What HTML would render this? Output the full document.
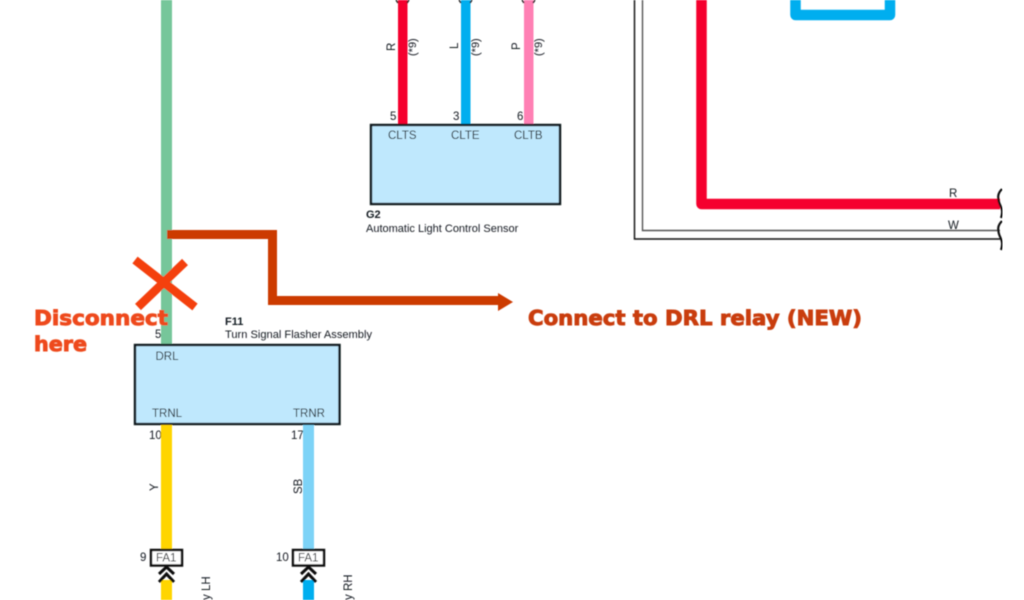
<!DOCTYPE html>
<html><head><meta charset="utf-8">
<style>html,body{margin:0;padding:0;background:#fff;width:1024px;height:600px;overflow:hidden}svg{display:block}
text{font-family:"Liberation Sans",sans-serif;fill:#141a20}
.o{font-family:"DejaVu Sans",sans-serif;font-weight:bold;stroke-width:.9px;paint-order:stroke}
</style></head>
<body>
<svg width="1024" height="600" viewBox="0 0 1024 600" xmlns="http://www.w3.org/2000/svg">
<defs><filter id="b" x="0" y="0" width="100%" height="100%"><feGaussianBlur stdDeviation="0.4"/></filter></defs>
<rect width="1024" height="600" fill="#fff"/>
<g filter="url(#b)">
<!-- main wires -->
<rect x="161" y="0" width="11" height="346" fill="#76c69a"/>
<rect x="398" y="0" width="9.5" height="126" fill="#f5002d"/>
<rect x="461" y="0" width="9.5" height="126" fill="#00aeef"/>
<rect x="524" y="0" width="9.5" height="126" fill="#ff80b4"/>
<path d="M396 0l2 3M409 0l-2 3M459 0l2 3M472 0l-2 3M522 0l2 3M535 0l-2 3" stroke="#222" stroke-width="1.5" fill="none"/>
<!-- G2 -->
<rect x="371" y="125" width="189" height="79" fill="#bfe8fd" stroke="#0f161c" stroke-width="2.4"/>
<g font-size="11.5">
<text x="388" y="139">CLTS</text><text x="451" y="139">CLTE</text><text x="514" y="139">CLTB</text>
<text x="390" y="120">5</text><text x="453" y="120">3</text><text x="517" y="120">6</text>
<text x="366" y="232" font-size="11">Automatic Light Control Sensor</text>
<text x="366" y="218" font-size="11" font-weight="bold">G2</text>
<text x="395" y="51" transform="rotate(-90 395 51)">R</text>
<text x="458" y="49" transform="rotate(-90 458 49)">L</text>
<text x="520" y="50" transform="rotate(-90 520 50)">P</text>
<text x="416" y="56" font-size="11" transform="rotate(-90 416 56)">(*9)</text>
<text x="479" y="56" font-size="11" transform="rotate(-90 479 56)">(*9)</text>
<text x="542" y="56" font-size="11" transform="rotate(-90 542 56)">(*9)</text>
</g>
<!-- right wires -->
<path d="M634.5 0V239H1000" stroke="#111" stroke-width="1.4" fill="none"/>
<path d="M642.5 0V230.500H1000" stroke="#555" stroke-width="1.4" fill="none"/>
<path d="M701.5 0V204H1000" stroke="#f5002d" stroke-width="10.5" fill="none" stroke-linejoin="round"/>
<path d="M795.5 0V15H890V0" stroke="#00aeef" stroke-width="10.5" fill="none" stroke-linejoin="round"/>
<path d="M1002 189C997 194 998 198 999 202C1000 206 1004 209 1001 218M1002 221C997 226 998 230 999 234C1000 238 1004 241 1001 250" stroke="#111" stroke-width="2.200" fill="none"/>
<text x="949" y="197" font-size="11.5">R</text>
<text x="948" y="229" font-size="11.5">W</text>
<!-- F11 -->
<rect x="135" y="345" width="204.5" height="79" fill="#bfe8fd" stroke="#0f161c" stroke-width="2.4"/>
<g font-size="11.5">
<text x="155.500" y="360">DRL</text>
<text x="152" y="417">TRNL</text>
<text x="293" y="417">TRNR</text>
<text x="155" y="338">5</text>
<text x="149" y="439">10</text>
<text x="291" y="439">17</text>
<text x="225" y="325" font-weight="bold" font-size="11">F11</text>
<text x="225" y="338" font-size="11" textLength="147" lengthAdjust="spacingAndGlyphs">Turn Signal Flasher Assembly</text>
</g>
<!-- lower wires -->
<rect x="161" y="425" width="11" height="126" fill="#ffd500"/>
<rect x="303" y="425" width="11" height="126" fill="#7dd3f7"/>
<rect x="161" y="580" width="11" height="20" fill="#ffd500"/>
<rect x="303" y="580" width="11" height="20" fill="#00aeef"/>
<g font-size="11.5">
<text x="158" y="491" transform="rotate(-90 158 491)">Y</text>
<text x="302" y="494" transform="rotate(-90 302 494)">SB</text>
<text x="140" y="561">9</text>
<text x="276" y="561">10</text>
<text x="210" y="600" transform="rotate(-90 210 600)">y LH</text>
<text x="352" y="600" transform="rotate(-90 352 600)">y RH</text>
</g>
<g fill="#fff" stroke="#111" stroke-width="2.500">
<rect x="151" y="550" width="31" height="15.500"/>
<rect x="293" y="550" width="31" height="15.500"/>
</g>
<g font-size="11.500"><text x="156" y="561.500">FA1</text><text x="298" y="561.500">FA1</text></g>
<path d="M159 574L166.500 567L174 574M159 582L166.500 574L174 582M301 574L308.500 567L316 574M301 582L308.500 574L316 582" stroke="#111" stroke-width="3" fill="none"/>
<!-- orange -->
<path d="M167 234.500H272.500V300.500H500" stroke="#cc3a00" stroke-width="9" fill="none"/>
<path d="M498 293L513 302L498 311Z" fill="#cc3a00"/>
<path d="M135 260L195 307M185 262L138 307" stroke="#f4410f" stroke-width="8.500" fill="none"/>
<text class="o" x="34" y="325" font-size="20" textLength="134" lengthAdjust="spacingAndGlyphs" style="fill:#ee4a1b;stroke:#ee4a1b">Disconnect</text>
<text class="o" x="34" y="351" font-size="20" textLength="53" lengthAdjust="spacingAndGlyphs" style="fill:#ee4a1b;stroke:#ee4a1b">here</text>
<text class="o" x="528" y="325" font-size="20" textLength="334" lengthAdjust="spacingAndGlyphs" style="fill:#c93c0c;stroke:#c93c0c">Connect to DRL relay (NEW)</text>
</g>
</svg>
</body></html>
